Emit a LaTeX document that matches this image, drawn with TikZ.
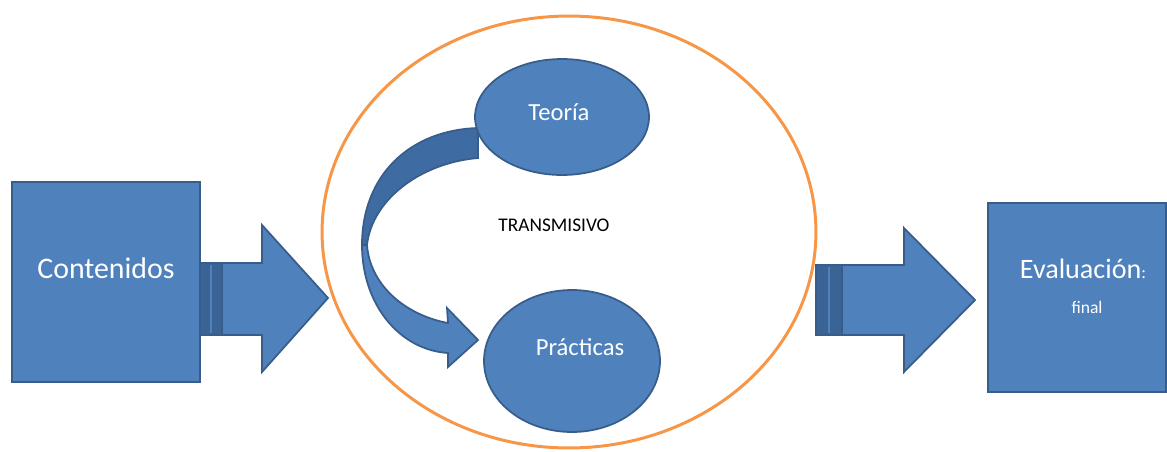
\documentclass[tikz,border=0pt]{standalone}
\usepackage{fontspec}
\setmainfont{Carlito}
\usetikzlibrary{shapes.geometric}
\definecolor{fillblue}{HTML}{4F81BD}
\definecolor{edgeblue}{HTML}{385D8A}
\definecolor{backblue}{HTML}{3E6CA2}
\definecolor{stripeblue}{HTML}{3A6496}
\definecolor{ringorange}{HTML}{F79646}

\begin{document}
\begin{tikzpicture}[x=0.02cm,y=-0.02cm,
    box/.style={draw=edgeblue, fill=fillblue, line width=1pt, inner sep=0pt},
    blob/.style={ellipse, draw=edgeblue, fill=fillblue, line width=1pt, inner sep=0pt},
    ring/.style={ellipse, draw=ringorange, line width=1.7pt, inner sep=0pt},
    blockarrow/.style={draw=edgeblue, fill=fillblue, line width=1pt},
    stripe/.style={draw=edgeblue, fill=stripeblue, line width=1pt},
    lbl/.style={text=white, anchor=base, inner sep=0pt}]
    \useasboundingbox (0,0) rectangle (1167,451);

    \node[ring, minimum width=9.88cm, minimum height=8.64cm] (transmisivo) at (569,232) {};
    \node[box, minimum width=3.76cm, minimum height=4cm] (contenidos) at (106,282) {};
    \node[box, minimum width=3.56cm, minimum height=3.78cm] (evaluacion) at (1077,297.5) {};

    \draw[stripe] (200,263) rectangle (222,335);
    \draw[fillblue, line width=1pt] (211,265) -- (211,333);
    \draw[blockarrow] (222,263) -- (262,263) -- (262,225) -- (328,298) -- (262,372) -- (262,335) -- (222,335) -- cycle;

    \draw[stripe] (816,265) rectangle (842,335);
    \draw[fillblue, line width=1pt] (829,267) -- (829,333);
    \draw[blockarrow] (842,265) -- (904,265) -- (904,228) -- (975,300) -- (904,372) -- (904,335) -- (842,335) -- cycle;

    \draw[stripe, fill=backblue] (478,128) .. controls (410,130) and (362,175) .. (362,245)
      -- (367,245) .. controls (372,200) and (420,163) .. (478,158) -- cycle;
    \draw[blockarrow] (362,245) .. controls (362,305) and (400,350) .. (448,353)
      -- (448,367) -- (478,340) -- (447,308) -- (448,323)
      .. controls (405,315) and (370,285) .. (367,245) -- cycle;

    \node[blob, minimum width=3.48cm, minimum height=2.32cm] (teoria) at (562,117) {};
    \node[blob, minimum width=3.52cm, minimum height=2.84cm] (practicas) at (572,361) {};

    \node[lbl, font=\fontsize{17}{20}\selectfont] (contenidostxt) at (106,278) {Contenidos};
    \node[lbl, font=\fontsize{16}{19}\selectfont] (evaluaciontxt) at (1083,278) {Evaluación\fontsize{10}{12}\selectfont:};
    \node[lbl, font=\fontsize{10}{12}\selectfont] (finaltxt) at (1087,313) {final};
    \node[lbl, font=\fontsize{14}{17}\selectfont] (teoriatxt) at (559,120) {Teoría};
    \node[lbl, font=\fontsize{14}{17}\selectfont] (practicastxt) at (580,355) {Prácticas};
    \node[lbl, text=black, font=\fontsize{11}{13}\selectfont] (transmisivotxt) at (554,231) {TRANSMISIVO};
  \end{tikzpicture}
\end{document}
